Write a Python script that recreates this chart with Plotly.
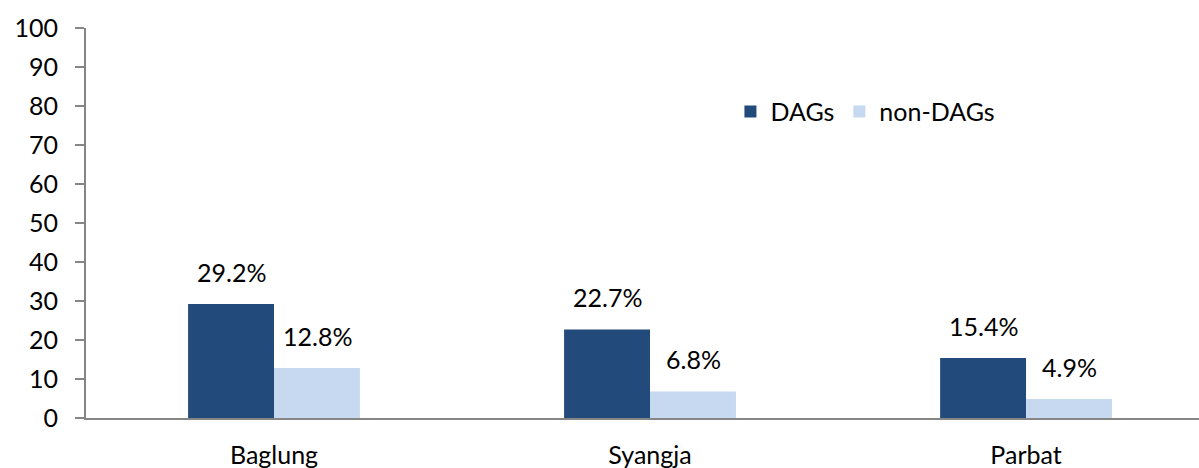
import plotly.graph_objects as go

categories = ["Baglung", "Syangja", "Parbat"]
dags = [29.2, 22.7, 15.4]
non_dags = [12.8, 6.8, 4.9]
y_ticks = list(range(0, 101, 10))

FONT = "Lato, Open Sans, sans-serif"
FS = 25
DARK = "#224A7B"
LIGHT = "#C6D9F1"

fig = go.Figure()
fig.add_trace(go.Bar(x=categories, y=dags, name="DAGs",
                     marker=dict(color=DARK, line=dict(width=0))))
fig.add_trace(go.Bar(x=categories, y=non_dags, name="non-DAGs",
                     marker=dict(color=LIGHT, line=dict(width=0))))

# value labels above bars
BAR_PX = 86
for series, xs in ((dags, -BAR_PX / 2), (non_dags, BAR_PX / 2)):
    for c, v in zip(categories, series):
        fig.add_annotation(x=c, y=v, text=f"{v:.1f}%", showarrow=False,
                           xanchor="center", yanchor="bottom", xshift=xs, yshift=15,
                           font=dict(size=FS, family=FONT, color="#000000"))

fig.update_layout(
    width=1199, height=468,
    margin=dict(l=86, r=0, t=28, b=50, autoexpand=False),
    paper_bgcolor="white", plot_bgcolor="white",
    barmode="group", bargap=0.543, bargroupgap=0,
    font=dict(family=FONT, size=FS, color="#000000"),
    showlegend=True,
    legend=dict(orientation="h", x=0.579, y=0.785, xanchor="left", yanchor="middle",
                font=dict(size=FS, family=FONT), itemwidth=30, tracegroupgap=0,
                bgcolor="rgba(0,0,0,0)"),
)
fig.update_xaxes(
    showline=True, linecolor="#868686", linewidth=2, showgrid=False, automargin=False,
    ticks="", ticklabelstandoff=14, tickfont=dict(size=FS, family=FONT),
    range=[-0.5, 2.46],
)
fig.update_yaxes(
    range=[0, 100], tickvals=y_ticks, showline=True, linecolor="#868686", linewidth=2,
    showgrid=False, zeroline=False, ticks="outside", ticklen=9, tickcolor="#868686",
    tickwidth=2, tickfont=dict(size=FS, family=FONT), ticklabelstandoff=12, automargin=False,
)

fig.write_html("out.html", config={"displayModeBar": False})

with open("out.html", "r", encoding="utf-8") as f:
    html = f.read()
html = html.replace("<head>", "<head><style>html,body{margin:0;padding:0;overflow:hidden}</style>", 1)
with open("out.html", "w", encoding="utf-8") as f:
    f.write(html)
